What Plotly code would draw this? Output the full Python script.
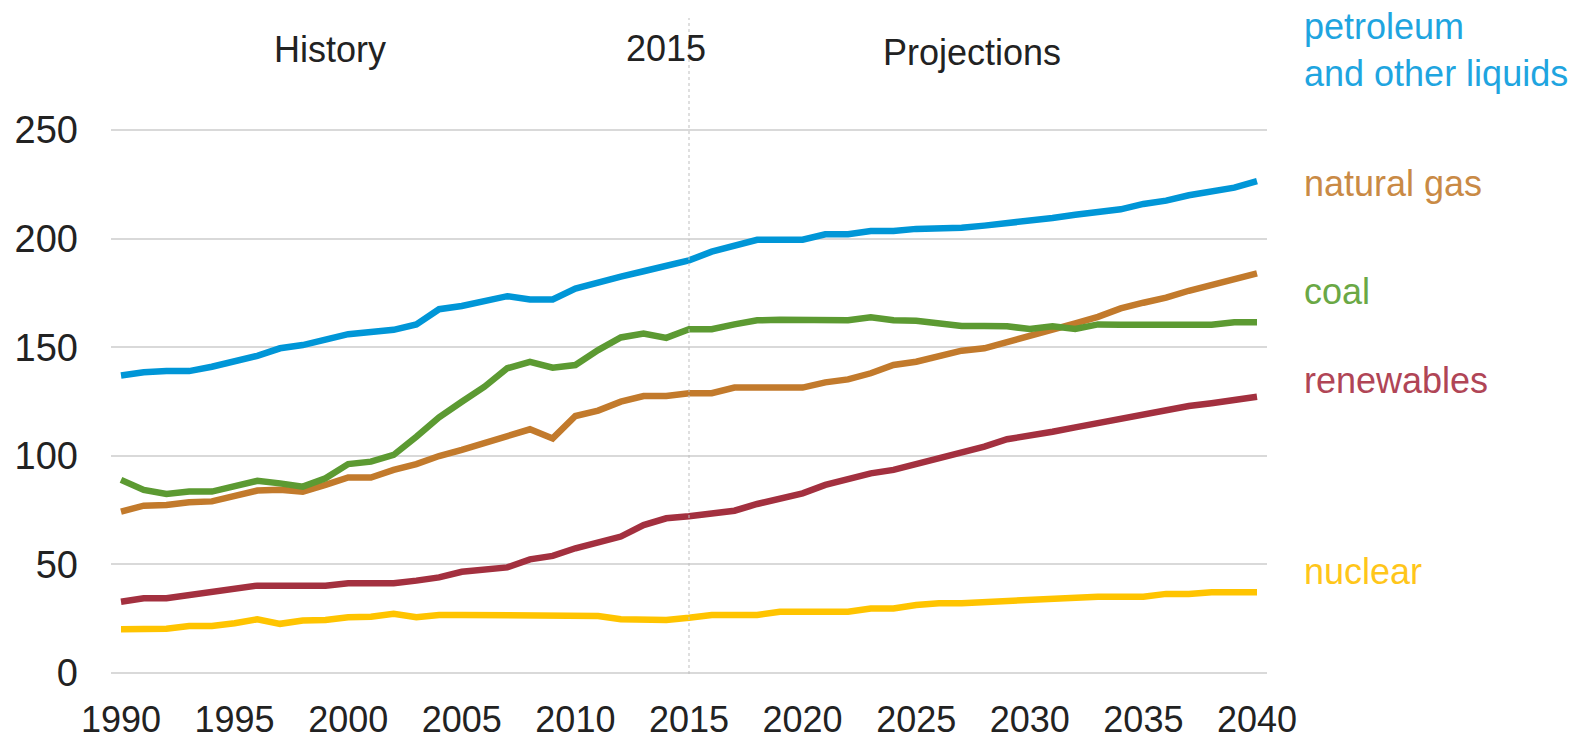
import plotly.graph_objects as go

years = list(range(1990, 2041))

petroleum = [137, 138.5, 139, 139, 141, 143.5, 146, 149.5, 151, 153.5,
             156, 157, 158, 160.5, 167.5, 169, 171.5, 173.5, 172, 172,
             177, 180, 182.5, 185, 187.5, 190, 194, 197, 199.5, 199.5,
             199.5, 202, 202, 203.5, 203.5, 204.5, 204.5, 205, 206, 207,
             208.5, 209.5, 211, 212, 213.5, 216, 217.5, 220, 221.5, 223.5, 226.5]

natural_gas = [74.3, 77, 77.3, 78.6, 79, 81.5, 84, 84.3, 83.5, 86.6,
               90, 90, 93.5, 96.2, 99.9, 102.7, 105.7, 108.5, 112.2, 108,
               118.3, 120.8, 124.9, 127.5, 127.5, 128.8, 128.8, 131.4, 131.4, 131.4,
               131.4, 133.8, 135.2, 138, 141.8, 143.3, 145.6, 148.4, 149.5, 152.3,
               154.8, 157.9, 161, 164, 167.9, 170.5, 172.8, 176, 178.6, 181.7, 184]

coal = [88.9, 84.3, 82.4, 83.5, 83.5, 86, 88.5, 87.3, 85.8, 89.6,
        96.2, 97.3, 100.4, 108.8, 117.7, 124.9, 131.8, 140.3, 143.3, 140.6,
        141.8, 148.7, 154.5, 156.3, 154.3, 158.3, 158.3, 160.5, 162.4, 162.6,
        162.4, 162.4, 162.4, 163.8, 162.4, 162.2, 160.7, 159.8, 159.8, 159.6,
        158.4, 159.6, 158.4, 160.5, 160.3, 160.3, 160.3, 160.3, 160.3, 161.5, 161.5]

renewables = [32.8, 34.4, 34.4, 35.9, 37.4, 39, 40.2, 40.2, 40.2, 40.2,
              41.3, 41.3, 41.3, 42.5, 44, 46.6, 47.7, 48.6, 52.3, 53.9,
              57.4, 60, 62.8, 68.1, 71.2, 72.2, 73.2, 74.7, 77.8, 80.4,
              82.7, 86.6, 89.6, 91.9, 93.5, 96.2, 98.8, 101.4, 104.2, 107.6,
              109.1, 111.1, 113.1, 115.2, 116.9, 118.8, 120.8, 122.9, 124.2, 126, 127.2]

nuclear = [20.1, 20.1, 20.3, 21.6, 21.6, 22.9, 24.7, 22.6, 24.1, 24.4,
           25.6, 25.9, 27.2, 25.6, 26.7, 26.7, 26.7, 26.7, 26.7, 26.7,
           26.7, 26.2, 24.7, 24.4, 24.4, 25.4, 26.7, 26.7, 26.7, 28.2,
           28.2, 28.2, 28.2, 29.7, 29.7, 31.3, 32.1, 32.1, 32.6, 33.6,
           33.6, 33.9, 35.1, 35.1, 35.1, 35.1, 36.4, 36.4, 37.2, 37.2, 37.2]

series_names = ["petroleum<br>and other liquids", "natural gas", "coal", "renewables", "nuclear"]
series_values = [petroleum, natural_gas, coal, renewables, nuclear]
series_colors = ["#0096D7", "#C27A2C", "#5C9A32", "#A3303F", "#FFC400"]
label_colors = ["#1FA5E0", "#C98A45", "#6AA845", "#B04556", "#FFC61A"]

y_ticks = [0, 50, 100, 150, 200, 250]
x_ticks = list(range(1990, 2041, 5))

FONT = "Liberation Sans, Arial, sans-serif"

fig = go.Figure()
for name, vals, col in zip(series_names, series_values, series_colors):
    fig.add_trace(go.Scatter(x=years, y=vals, mode="lines", name=name,
                             line=dict(color=col, width=6.5), showlegend=False))

# plot-area pixel geometry helpers (top 129, bottom 674, left 111, width 1156)
def ypaper(px):
    return (674 - px) / 545.0

def xpaper(px):
    return (px - 111) / 1156.0

# 2015 divider
fig.add_shape(type="line", xref="x", yref="paper", x0=2015, x1=2015,
              y0=0, y1=ypaper(18), line=dict(color="#BFBFBF", width=1, dash="dot"))

anns = [
    ("History", xpaper(330), ypaper(50)),
    ("2015", xpaper(666), ypaper(48)),
    ("Projections", xpaper(972), ypaper(52)),
]
for text, x, y in anns:
    fig.add_annotation(text=text, x=x, y=y, xref="paper", yref="paper",
                       showarrow=False, xanchor="center", yanchor="middle",
                       font=dict(size=36, color="#222222", family=FONT))

label_y = [50, 184, 291, 380, 571]
for name, ly, col in zip(series_names, label_y, label_colors):
    fig.add_annotation(text=name, x=xpaper(1302), y=ypaper(ly), xref="paper", yref="paper",
                       showarrow=False, xanchor="left", yanchor="middle", align="left",
                       font=dict(size=36, color=col, family=FONT))

fig.update_layout(
    width=1579, height=733,
    margin=dict(l=111, r=312, t=129, b=59, autoexpand=False),
    plot_bgcolor="white", paper_bgcolor="white",
    font=dict(family=FONT, color="#222222"),
    xaxis=dict(range=[1989.56, 2040.44], tickvals=x_ticks, showgrid=False,
               zeroline=False, showline=False, ticks="", automargin=False,
               tickfont=dict(size=36, color="#222222", family=FONT),
               ticklabelstandoff=21, fixedrange=True),
    yaxis=dict(range=[-0.5, 250.5], tickvals=y_ticks, showgrid=True, gridcolor="#D9D9D9",
               gridwidth=1.5, zeroline=False, showline=False, ticks="", automargin=False,
               tickfont=dict(size=38, color="#222222", family=FONT),
               ticklabelstandoff=32, fixedrange=True),
)

fig.write_html("out.html", config={"displayModeBar": False},
               post_script="document.body.style.margin='0';document.body.style.overflow='hidden';")
